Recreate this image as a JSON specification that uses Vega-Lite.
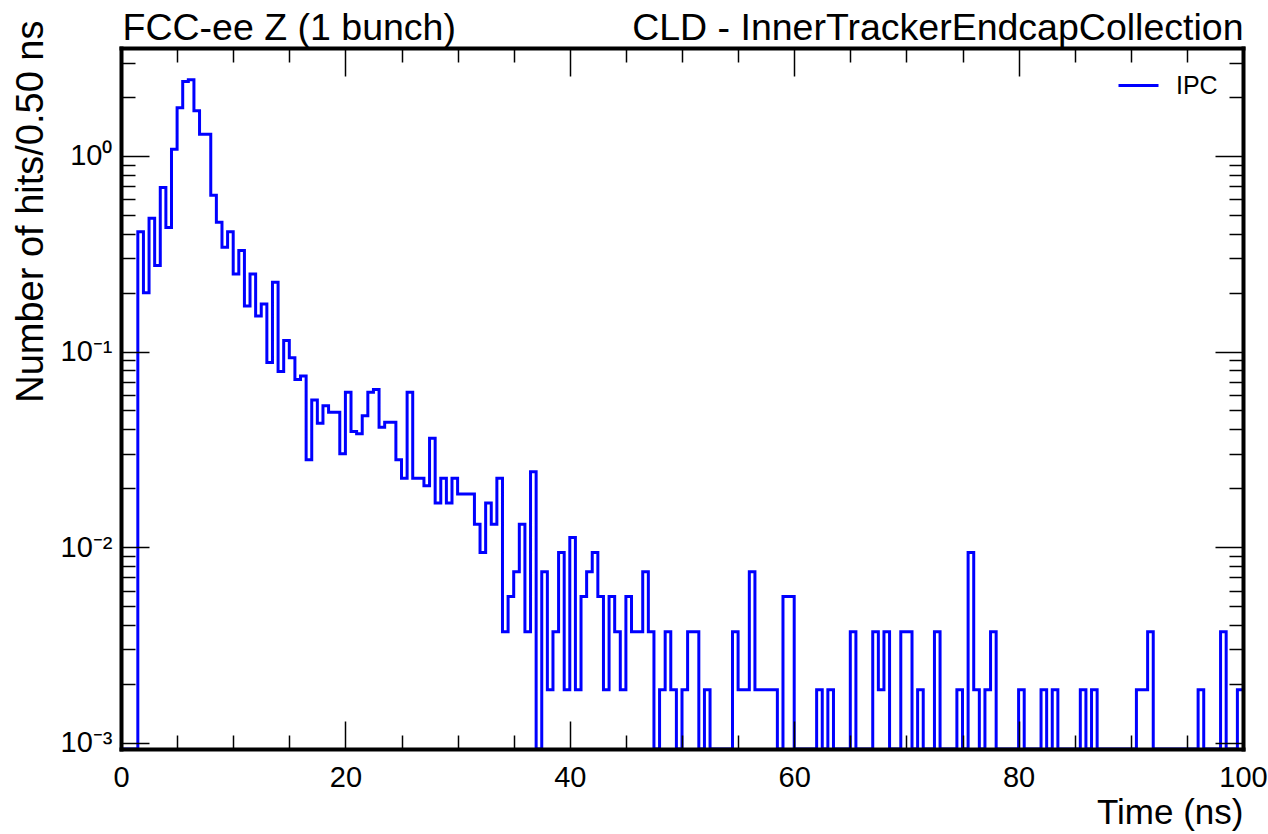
{
  "$schema": "https://vega.github.io/schema/vega-lite/v6.json",
  "width": 1122,
  "height": 701,
  "autosize": {"type": "none"},
  "padding": {"left": 121, "top": 48, "right": 25, "bottom": 85},
  "background": "white",
  "data": {"values": [
    {"t": 0, "v": 0}, {"t": 0.5, "v": 0}, {"t": 1, "v": 0}, {"t": 1.5, "v": 0.41},
    {"t": 2, "v": 0.2}, {"t": 2.5, "v": 0.48}, {"t": 3, "v": 0.275}, {"t": 3.5, "v": 0.69},
    {"t": 4, "v": 0.43}, {"t": 4.5, "v": 1.08}, {"t": 5, "v": 1.76}, {"t": 5.5, "v": 2.4},
    {"t": 6, "v": 2.45}, {"t": 6.5, "v": 1.7}, {"t": 7, "v": 1.29}, {"t": 7.5, "v": 1.29},
    {"t": 8, "v": 0.63}, {"t": 8.5, "v": 0.458}, {"t": 9, "v": 0.341}, {"t": 9.5, "v": 0.41},
    {"t": 10, "v": 0.249}, {"t": 10.5, "v": 0.328}, {"t": 11, "v": 0.171}, {"t": 11.5, "v": 0.249},
    {"t": 12, "v": 0.152}, {"t": 12.5, "v": 0.175}, {"t": 13, "v": 0.088}, {"t": 13.5, "v": 0.226},
    {"t": 14, "v": 0.079}, {"t": 14.5, "v": 0.114}, {"t": 15, "v": 0.093}, {"t": 15.5, "v": 0.072},
    {"t": 16, "v": 0.075}, {"t": 16.5, "v": 0.028}, {"t": 17, "v": 0.0565}, {"t": 17.5, "v": 0.043},
    {"t": 18, "v": 0.0528}, {"t": 18.5, "v": 0.049}, {"t": 19, "v": 0.049}, {"t": 19.5, "v": 0.03},
    {"t": 20, "v": 0.062}, {"t": 20.5, "v": 0.039}, {"t": 21, "v": 0.038}, {"t": 21.5, "v": 0.047},
    {"t": 22, "v": 0.062}, {"t": 22.5, "v": 0.064}, {"t": 23, "v": 0.041}, {"t": 23.5, "v": 0.0435},
    {"t": 24, "v": 0.0435}, {"t": 24.5, "v": 0.028}, {"t": 25, "v": 0.0225}, {"t": 25.5, "v": 0.062},
    {"t": 26, "v": 0.0225}, {"t": 26.5, "v": 0.0225}, {"t": 27, "v": 0.0206}, {"t": 27.5, "v": 0.036},
    {"t": 28, "v": 0.0168}, {"t": 28.5, "v": 0.0225}, {"t": 29, "v": 0.0168}, {"t": 29.5, "v": 0.0225},
    {"t": 30, "v": 0.0187}, {"t": 30.5, "v": 0.0187}, {"t": 31, "v": 0.0187}, {"t": 31.5, "v": 0.0131},
    {"t": 32, "v": 0.0094}, {"t": 32.5, "v": 0.0168}, {"t": 33, "v": 0.0131}, {"t": 33.5, "v": 0.0225},
    {"t": 34, "v": 0.0037}, {"t": 34.5, "v": 0.0056}, {"t": 35, "v": 0.0075}, {"t": 35.5, "v": 0.0131},
    {"t": 36, "v": 0.0037}, {"t": 36.5, "v": 0.0243}, {"t": 37, "v": 0}, {"t": 37.5, "v": 0.0075},
    {"t": 38, "v": 0.00187}, {"t": 38.5, "v": 0.0037}, {"t": 39, "v": 0.0094}, {"t": 39.5, "v": 0.00187},
    {"t": 40, "v": 0.0112}, {"t": 40.5, "v": 0.00187}, {"t": 41, "v": 0.0056}, {"t": 41.5, "v": 0.0075},
    {"t": 42, "v": 0.0094}, {"t": 42.5, "v": 0.0056}, {"t": 43, "v": 0.00187}, {"t": 43.5, "v": 0.0056},
    {"t": 44, "v": 0.0037}, {"t": 44.5, "v": 0.00187}, {"t": 45, "v": 0.0056}, {"t": 45.5, "v": 0.0037},
    {"t": 46, "v": 0.0037}, {"t": 46.5, "v": 0.0075}, {"t": 47, "v": 0.0037}, {"t": 47.5, "v": 0},
    {"t": 48, "v": 0.00187}, {"t": 48.5, "v": 0.0037}, {"t": 49, "v": 0.00187}, {"t": 49.5, "v": 0},
    {"t": 50, "v": 0.00187}, {"t": 50.5, "v": 0.0037}, {"t": 51, "v": 0.0037}, {"t": 51.5, "v": 0},
    {"t": 52, "v": 0.00187}, {"t": 52.5, "v": 0}, {"t": 53, "v": 0}, {"t": 53.5, "v": 0},
    {"t": 54, "v": 0}, {"t": 54.5, "v": 0.0037}, {"t": 55, "v": 0.00187}, {"t": 55.5, "v": 0.00187},
    {"t": 56, "v": 0.0075}, {"t": 56.5, "v": 0.00187}, {"t": 57, "v": 0.00187}, {"t": 57.5, "v": 0.00187},
    {"t": 58, "v": 0.00187}, {"t": 58.5, "v": 0}, {"t": 59, "v": 0.0056}, {"t": 59.5, "v": 0.0056},
    {"t": 60, "v": 0}, {"t": 60.5, "v": 0}, {"t": 61, "v": 0}, {"t": 61.5, "v": 0},
    {"t": 62, "v": 0.00187}, {"t": 62.5, "v": 0}, {"t": 63, "v": 0.00187}, {"t": 63.5, "v": 0},
    {"t": 64, "v": 0}, {"t": 64.5, "v": 0}, {"t": 65, "v": 0.0037}, {"t": 65.5, "v": 0},
    {"t": 66, "v": 0}, {"t": 66.5, "v": 0}, {"t": 67, "v": 0.0037}, {"t": 67.5, "v": 0.00187},
    {"t": 68, "v": 0.0037}, {"t": 68.5, "v": 0}, {"t": 69, "v": 0}, {"t": 69.5, "v": 0.0037},
    {"t": 70, "v": 0.0037}, {"t": 70.5, "v": 0}, {"t": 71, "v": 0.00187}, {"t": 71.5, "v": 0},
    {"t": 72, "v": 0}, {"t": 72.5, "v": 0.0037}, {"t": 73, "v": 0}, {"t": 73.5, "v": 0},
    {"t": 74, "v": 0}, {"t": 74.5, "v": 0.00187}, {"t": 75, "v": 0}, {"t": 75.5, "v": 0.0094},
    {"t": 76, "v": 0.00187}, {"t": 76.5, "v": 0}, {"t": 77, "v": 0.00187}, {"t": 77.5, "v": 0.0037},
    {"t": 78, "v": 0}, {"t": 78.5, "v": 0}, {"t": 79, "v": 0}, {"t": 79.5, "v": 0},
    {"t": 80, "v": 0.00187}, {"t": 80.5, "v": 0}, {"t": 81, "v": 0}, {"t": 81.5, "v": 0},
    {"t": 82, "v": 0.00187}, {"t": 82.5, "v": 0}, {"t": 83, "v": 0.00187}, {"t": 83.5, "v": 0},
    {"t": 84, "v": 0}, {"t": 84.5, "v": 0}, {"t": 85, "v": 0}, {"t": 85.5, "v": 0.00187},
    {"t": 86, "v": 0}, {"t": 86.5, "v": 0.00187}, {"t": 87, "v": 0}, {"t": 87.5, "v": 0},
    {"t": 88, "v": 0}, {"t": 88.5, "v": 0}, {"t": 89, "v": 0}, {"t": 89.5, "v": 0},
    {"t": 90, "v": 0}, {"t": 90.5, "v": 0.00187}, {"t": 91, "v": 0.00187}, {"t": 91.5, "v": 0.0037},
    {"t": 92, "v": 0}, {"t": 92.5, "v": 0}, {"t": 93, "v": 0}, {"t": 93.5, "v": 0},
    {"t": 94, "v": 0}, {"t": 94.5, "v": 0}, {"t": 95, "v": 0}, {"t": 95.5, "v": 0},
    {"t": 96, "v": 0.00187}, {"t": 96.5, "v": 0}, {"t": 97, "v": 0}, {"t": 97.5, "v": 0},
    {"t": 98, "v": 0.0037}, {"t": 98.5, "v": 0}, {"t": 99, "v": 0}, {"t": 99.5, "v": 0.00187},
    {"t": 100, "v": 0.00187}
  ]},
  "resolve": {"axis": {"x": "independent", "y": "independent"}},
  "layer": [
    {
      "mark": {"type": "line", "interpolate": "step-after", "strokeWidth": 3, "clip": true},
      "encoding": {
        "x": {"field": "t", "type": "quantitative", "scale": {"domain": [0, 100], "nice": false, "zero": false},
          "axis": {"orient": "bottom", "values": [0, 20, 40, 60, 80, 100], "ticks": false, "labelPadding": 14, "labelFontSize": 29, "labelFlush": false, "labelOverlap": false, "labelBound": false, "format": "d",
            "title": "Time (ns)", "titleFontSize": 35, "titleAlign": "right", "titleAnchor": "end", "titleX": 1122, "titleY": 74, "titleBaseline": "alphabetic"}},
        "y": {"field": "v", "type": "quantitative", "scale": {"type": "log", "domain": [0.00093, 3.56], "clamp": true, "nice": false},
          "axis": {"orient": "left", "values": [0.001, 0.01, 0.1, 1], "ticks": false, "labelPadding": 9, "labelFontSize": 29, "labelBaseline": "middle", "labelOverlap": false, "labelFlush": false, "labelBound": false,
            "labelExpr": "'10' + (datum.value >= 0.5 ? '⁰' : datum.value >= 0.05 ? '⁻¹' : datum.value >= 0.005 ? '⁻²' : '⁻³')",
            "title": "Number of hits/0.50 ns", "titleFontSize": 38, "titleAngle": -90, "titleAlign": "right", "titleAnchor": "end", "titleX": -79, "titleY": -28, "titleBaseline": "alphabetic"}},
        "color": {"datum": "IPC", "scale": {"range": ["#0000ff"]},
          "legend": {"orient": "none", "legendX": 996, "legendY": 16, "title": null, "padding": 0, "symbolType": "stroke", "symbolSize": 1600, "symbolStrokeWidth": 3, "labelFontSize": 25, "labelFont": "Liberation Sans", "labelOffset": 16, "labelColor": "black"}}
      }
    },
    {
      "mark": {"type": "point", "opacity": 0},
      "encoding": {
        "x": {"field": "t", "type": "quantitative", "scale": {"domain": [0, 100], "nice": false, "zero": false},
          "axis": {"orient": "bottom", "values": [0, 20, 40, 60, 80, 100], "labels": false, "tickSize": -28, "title": null, "domain": true, "domainColor": "black", "domainWidth": 4, "domainCap": "square", "zindex": 1}},
        "y": {"field": "v", "type": "quantitative", "scale": {"type": "log", "domain": [0.00093, 3.56], "clamp": true, "nice": false},
          "axis": {"orient": "left", "values": [0.001, 0.01, 0.1, 1], "labels": false, "tickSize": -28, "title": null, "domain": true, "domainColor": "black", "domainWidth": 4, "domainCap": "square", "zindex": 1}}
      }
    },
    {
      "mark": {"type": "point", "opacity": 0},
      "encoding": {
        "x": {"field": "t", "type": "quantitative", "scale": {"domain": [0, 100], "nice": false, "zero": false},
          "axis": {"orient": "bottom", "values": [5, 10, 15, 25, 30, 35, 45, 50, 55, 65, 70, 75, 85, 90, 95], "labels": false, "tickSize": -14, "title": null, "zindex": 1}},
        "y": {"field": "v", "type": "quantitative", "scale": {"type": "log", "domain": [0.00093, 3.56], "clamp": true, "nice": false},
          "axis": {"orient": "left", "values": [0.002, 0.003, 0.004, 0.005, 0.006, 0.007, 0.008, 0.009, 0.02, 0.03, 0.04, 0.05, 0.06, 0.07, 0.08, 0.09, 0.2, 0.3, 0.4, 0.5, 0.6, 0.7, 0.8, 0.9, 2, 3], "labels": false, "tickSize": -14, "title": null, "zindex": 1}}
      }
    },
    {
      "mark": {"type": "point", "opacity": 0},
      "encoding": {
        "x": {"field": "t", "type": "quantitative", "scale": {"domain": [0, 100], "nice": false, "zero": false},
          "axis": {"orient": "top", "values": [0, 20, 40, 60, 80, 100], "labels": false, "tickSize": -28, "domain": true, "domainColor": "black", "domainWidth": 4, "domainCap": "square", "zindex": 1,
            "title": "CLD - InnerTrackerEndcapCollection", "titleFontSize": 37.5, "titleAlign": "right", "titleAnchor": "end", "titleX": 1122, "titleY": -9, "titleBaseline": "alphabetic"}},
        "y": {"field": "v", "type": "quantitative", "scale": {"type": "log", "domain": [0.00093, 3.56], "clamp": true, "nice": false},
          "axis": {"orient": "right", "values": [0.001, 0.01, 0.1, 1], "labels": false, "tickSize": -28, "title": null, "domain": true, "domainColor": "black", "domainWidth": 4, "domainCap": "square", "zindex": 1}}
      }
    },
    {
      "mark": {"type": "point", "opacity": 0},
      "encoding": {
        "x": {"field": "t", "type": "quantitative", "scale": {"domain": [0, 100], "nice": false, "zero": false},
          "axis": {"orient": "top", "values": [5, 10, 15, 25, 30, 35, 45, 50, 55, 65, 70, 75, 85, 90, 95], "labels": false, "tickSize": -14, "zindex": 1,
            "title": "FCC-ee Z (1 bunch)", "titleFontSize": 37.5, "titleAlign": "left", "titleAnchor": "start", "titleX": 1, "titleY": -9, "titleBaseline": "alphabetic"}},
        "y": {"field": "v", "type": "quantitative", "scale": {"type": "log", "domain": [0.00093, 3.56], "clamp": true, "nice": false},
          "axis": {"orient": "right", "values": [0.002, 0.003, 0.004, 0.005, 0.006, 0.007, 0.008, 0.009, 0.02, 0.03, 0.04, 0.05, 0.06, 0.07, 0.08, 0.09, 0.2, 0.3, 0.4, 0.5, 0.6, 0.7, 0.8, 0.9, 2, 3], "labels": false, "tickSize": -14, "title": null, "zindex": 1}}
      }
    }
  ],
  "config": {
    "view": {"stroke": null},
    "axis": {"grid": false, "domain": false, "tickColor": "black", "tickWidth": 1.5, "labelFont": "Liberation Sans", "titleFont": "Liberation Sans", "labelColor": "black", "titleColor": "black", "titleFontWeight": "normal"}
  }
}
